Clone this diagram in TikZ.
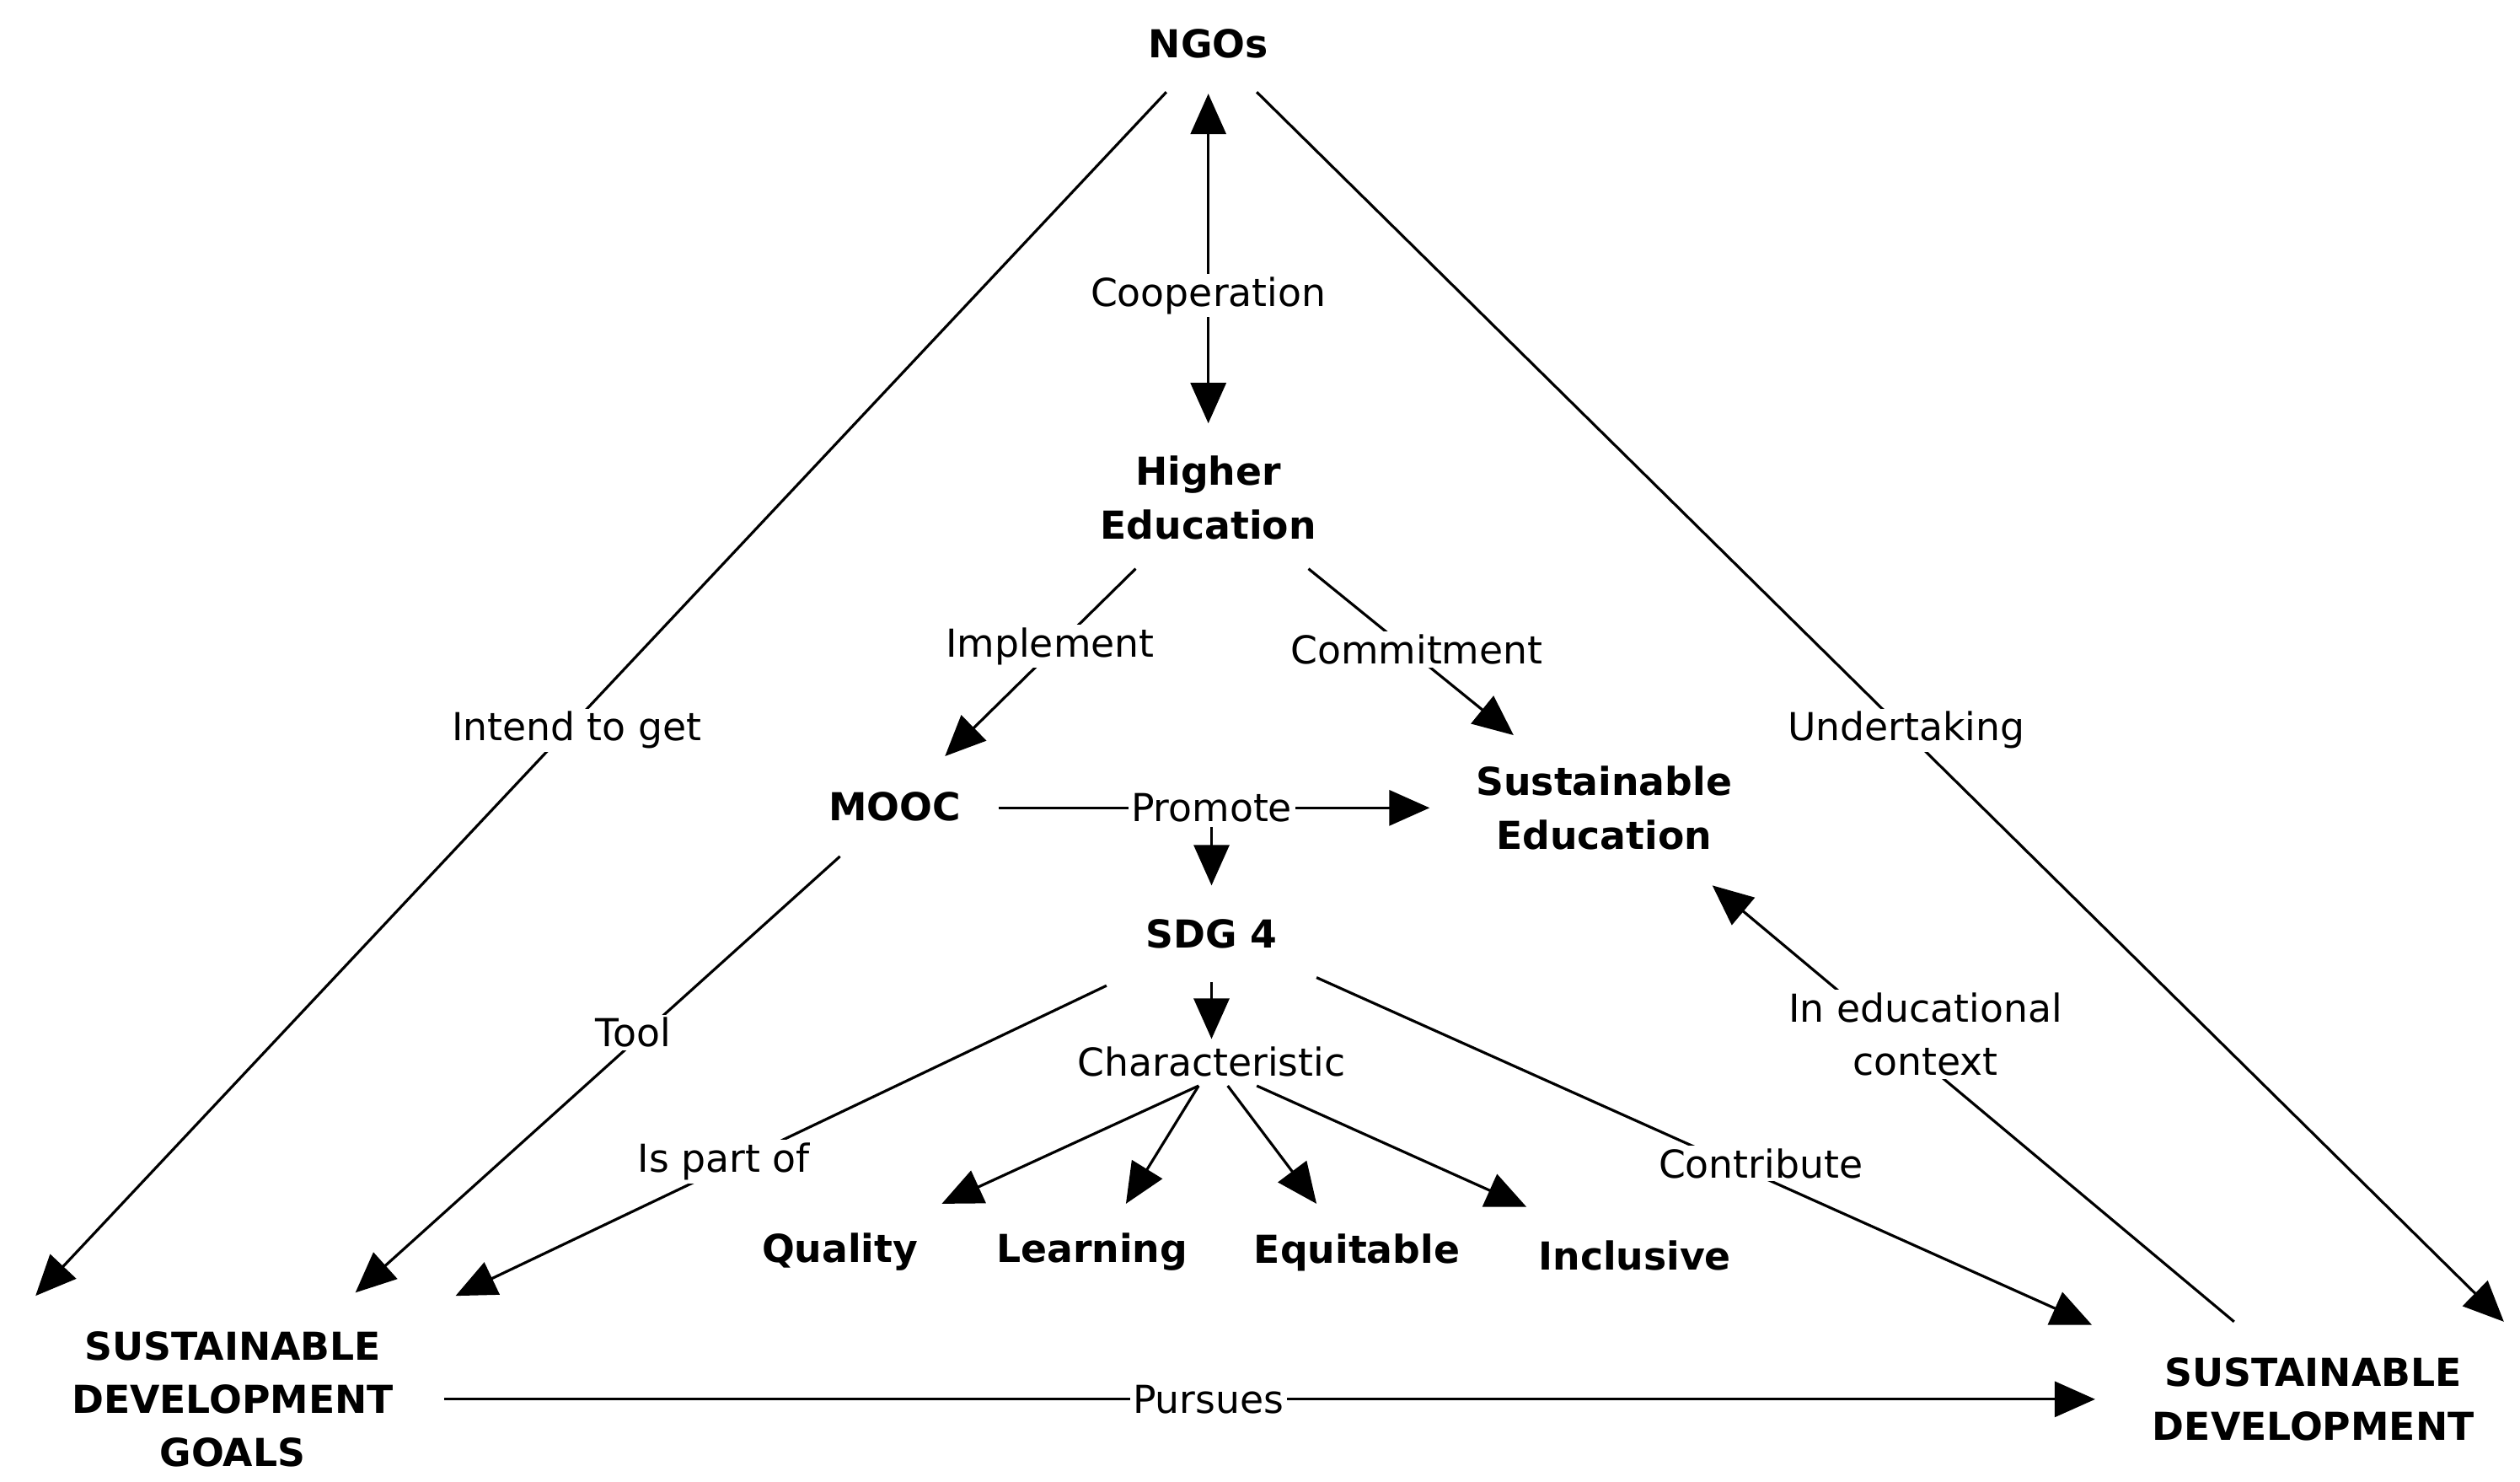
\documentclass[tikz,border=0pt]{standalone}
\usepackage{fontspec}
\setmainfont{DejaVu Sans}
\usetikzlibrary{arrows.meta}
\begin{document}
\begin{tikzpicture}[x=0.019167cm,y=-0.019167cm,
 con/.style={line width=0.9pt},
 arr/.style={con,-{Triangle[length=0.48cm,width=0.42cm]}},
 lab/.style={fill=white,inner sep=1pt,font=\fontsize{13}{18}\selectfont},
 concept/.style={align=center,font=\bfseries\fontsize{13}{18}\selectfont}]
\path[use as bounding box] (0,0) rectangle (1560,917);
% concepts
\node[concept] (ngo) at (748,27) {NGOs};
\node[concept] (he) at (748,308) {Higher\\Education};
\node[concept] (mooc) at (554,499) {MOOC};
\node[concept] (se) at (993,500) {Sustainable\\Education};
\node[concept] (sdg4) at (750,578) {SDG 4};
\node[concept] (q) at (520,775) {Quality};
\node[concept] (l) at (676,775) {Learning};
\node[concept] (e) at (840,775) {Equitable};
\node[concept] (i) at (1012,777) {Inclusive};
\node[concept] (sdg) at (144,866) {SUSTAINABLE\\DEVELOPMENT\\GOALS};
\node[concept] (sd) at (1432,866) {SUSTAINABLE\\DEVELOPMENT};
% endpoints
\coordinate (a1) at (748,58); \coordinate (a2) at (748,262);
\coordinate (b1) at (703,352); \coordinate (b2) at (585,468);
\coordinate (c1) at (810,352); \coordinate (c2) at (937,455);
\coordinate (d1) at (618,500); \coordinate (d2) at (885,500);
\coordinate (d3) at (750,512); \coordinate (d4) at (750,548);
\coordinate (f1) at (750,608); \coordinate (f2) at (750,643);
\coordinate (g0) at (742,672); \coordinate (g1) at (583,745);
\coordinate (g2) at (697,745); \coordinate (h0) at (760,672);
\coordinate (g3) at (815,745); \coordinate (k0) at (778,672);
\coordinate (g4) at (945,747);
\coordinate (p1) at (685,610); \coordinate (p2) at (282,802);
\coordinate (t1) at (520,530); \coordinate (t2) at (220,800);
\coordinate (n1) at (722,57); \coordinate (n2) at (22,802);
\coordinate (u1) at (778,57); \coordinate (u2) at (1550,818);
\coordinate (co1) at (815,605); \coordinate (co2) at (1295,820);
\coordinate (ie1) at (1383,818); \coordinate (ie2) at (1060,548);
\coordinate (ps1) at (275,866); \coordinate (ps2) at (1297,866);
% connectors
\draw[con,{Triangle[length=0.48cm,width=0.42cm]}-{Triangle[length=0.48cm,width=0.42cm]}] (a1) -- (a2);
\draw[arr] (b1) -- (b2);
\draw[arr] (c1) -- (c2);
\draw[arr] (d1) -- (d2);
\draw[arr] (d3) -- (d4);
\draw[arr] (f1) -- (f2);
\draw[arr] (g0) -- (g1);
\draw[arr] (g0) -- (g2);
\draw[arr] (h0) -- (g3);
\draw[arr] (k0) -- (g4);
\draw[arr] (p1) -- (p2);
\draw[arr] (t1) -- (t2);
\draw[arr] (n1) -- (n2);
\draw[arr] (u1) -- (u2);
\draw[arr] (co1) -- (co2);
\draw[arr] (ie1) -- (ie2);
\draw[arr] (ps1) -- (ps2);
% labels
\node[lab] at (748,183) {Cooperation};
\node[lab] at (650,400) {Implement};
\node[lab] at (877,402) {Commitment};
\node[lab] at (750,500) {Promote};
\node[lab] at (750,657) {Characteristic};
\node[lab] at (448,719) {Is part of};
\node[lab] at (392,639) {Tool};
\node[lab] at (357,452) {Intend to get};
\node[lab] at (1180,452) {Undertaking};
\node[lab] at (1090,720) {Contribute};
\node[lab,align=center] at (1192,640) {In educational\\context};
\node[lab] at (748,866) {Pursues};
\end{tikzpicture}
\end{document}
